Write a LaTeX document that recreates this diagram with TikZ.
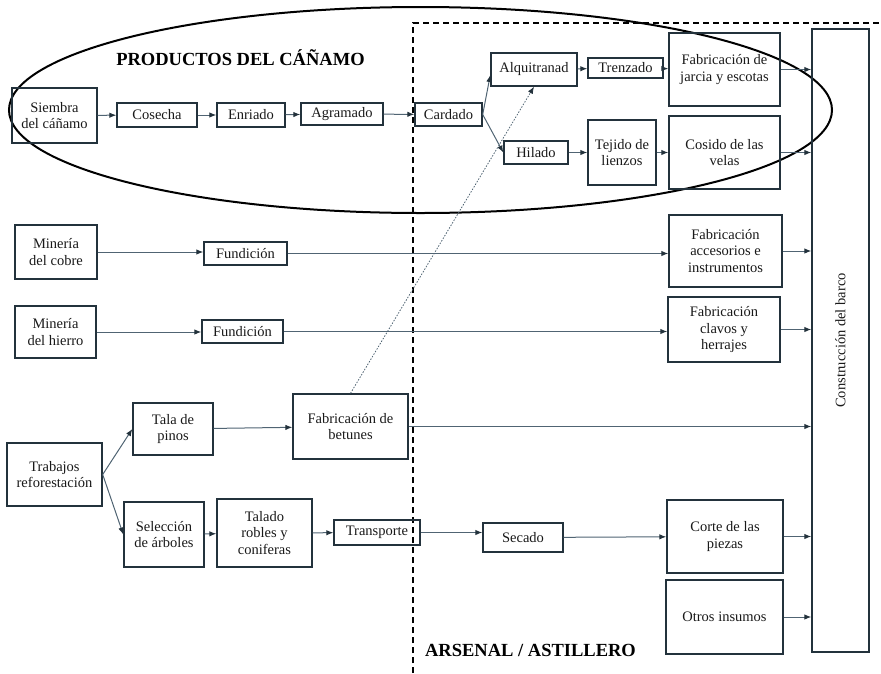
\documentclass[tikz,border=0pt]{standalone}
\usepackage{fontspec}
\setmainfont{Liberation Serif}
\usepackage{tikz}
\usetikzlibrary{arrows.meta}

\definecolor{boxcol}{RGB}{35,50,60}
\definecolor{flowcol}{RGB}{80,100,115}

\begin{document}
\begin{tikzpicture}[x=1pt,y=-1pt,>={Latex[length=7pt,width=5.5pt,color=boxcol]},
  caja/.style={draw=boxcol,line width=1.4pt,rectangle,align=center,inner sep=0pt,text=black!90,font=\fontsize{14.5}{16.7}\selectfont},
  flecha/.style={->,draw=flowcol,line width=1pt},
  titulo/.style={font=\fontsize{18.5}{22}\selectfont\bfseries,text=black}]
\useasboundingbox (0,0) rectangle (881,673);
% areas
\draw[line width=2pt] (420.5,110) ellipse [x radius=411.5pt, y radius=103pt];
\draw[line width=2pt, dash pattern=on 6pt off 4pt] (413,673) -- (413,23) -- (881,23);
\node[titulo] (prod) at (240.5,58) {PRODUCTOS DEL CÁÑAMO};
\node[titulo] (arsenal) at (530.5,650) {ARSENAL / ASTILLERO};
% canamo
\node[caja,minimum width=85pt,minimum height=55pt] (siembra) at (54.5,115.5) {Siembra\\del cáñamo};
\node[caja,minimum width=80pt,minimum height=24pt] (cosecha) at (157,115) {Cosecha};
\node[caja,minimum width=68pt,minimum height=24pt] (enriado) at (251,115) {Enriado};
\node[caja,minimum width=82pt,minimum height=22pt] (agramado) at (342,114) {Agramado};
\node[caja,minimum width=67pt,minimum height=23pt] (cardado) at (448.5,114.5) {Cardado};
\node[caja,minimum width=86pt,minimum height=33pt] (alquitran) at (534,69.5) {Alquitranad};
\node[caja,minimum width=75pt,minimum height=20pt] (trenzado) at (625.5,68) {Trenzado};
\node[caja,minimum width=111pt,minimum height=73pt] (jarcia) at (724.5,69.5) {Fabricación de\\jarcia y escotas};
\node[caja,minimum width=64pt,minimum height=23pt] (hilado) at (536,152.5) {Hilado};
\node[caja,minimum width=68pt,minimum height=65pt] (tejido) at (622,152.5) {Tejido de\\lienzos};
\node[caja,minimum width=111pt,minimum height=73pt] (cosido) at (724.5,152.5) {Cosido de las\\velas};
\node[caja,minimum width=57pt,minimum height=623pt] (barco) at (840.5,340.5) {\rotatebox{90}{Construcción del barco}};
% metales
\node[caja,minimum width=82pt,minimum height=54pt] (cobre) at (56,252) {Minería\\del cobre};
\node[caja,minimum width=83pt,minimum height=23pt] (fund1) at (245.5,253.5) {Fundición};
\node[caja,minimum width=113pt,minimum height=72pt] (acces) at (725.5,251) {Fabricación\\accesorios e\\instrumentos};
\node[caja,minimum width=81pt,minimum height=52pt] (hierro) at (55.5,332) {Minería\\del hierro};
\node[caja,minimum width=81pt,minimum height=23pt] (fund2) at (242.5,331.5) {Fundición};
\node[caja,minimum width=112pt,minimum height=65pt] (clavos) at (724,329.5) {Fabricación\\clavos y\\herrajes};
% madera
\node[caja,minimum width=95pt,minimum height=63pt] (trabajos) at (54.5,474.5) {Trabajos\\reforestación};
\node[caja,minimum width=80pt,minimum height=52pt] (tala) at (173,429) {Tala de\\pinos};
\node[caja,minimum width=115pt,minimum height=65pt] (betunes) at (350.5,426.5) {Fabricación de\\betunes};
\node[caja,minimum width=80pt,minimum height=65pt] (selec) at (164,534.5) {Selección\\de árboles};
\node[caja,minimum width=95pt,minimum height=68pt] (talado) at (264.5,533) {Talado\\robles y\\coniferas};
\node[caja,minimum width=86pt,minimum height=25pt] (transp) at (377,532.5) {Transporte};
\node[caja,minimum width=80pt,minimum height=29pt] (secado) at (523,537.5) {Secado};
\node[caja,minimum width=116pt,minimum height=73pt] (corte) at (725,536.5) {Corte de las\\piezas};
\node[caja,minimum width=117pt,minimum height=74pt] (otros) at (724.5,617) {Otros insumos};
% flechas
\draw[flecha] (siembra) -- (cosecha);
\draw[flecha] (cosecha) -- (enriado);
\draw[flecha] (enriado) -- (agramado);
\draw[flecha] (agramado) -- (cardado);
\draw[flecha] (cardado.east) -- ([yshift=-5.5pt]alquitran.west);
\draw[flecha] (cardado.east) -- (hilado.west);
\draw[flecha] (alquitran) -- (trenzado);
\draw[flecha] (trenzado) -- (jarcia);
\draw[flecha] (hilado) -- (tejido);
\draw[flecha] (tejido) -- (cosido);
\draw[flecha] (jarcia.east) -- (jarcia.east -| barco.west);
\draw[flecha] (cosido.east) -- (cosido.east -| barco.west);
\draw[flecha] (cobre.east) -- (cobre.east -| fund1.west);
\draw[flecha] (fund1.east) -- (fund1.east -| acces.west);
\draw[flecha] (acces.east) -- (acces.east -| barco.west);
\draw[flecha] (hierro.east) -- (hierro.east -| fund2.west);
\draw[flecha] (fund2.east) -- (fund2.east -| clavos.west);
\draw[flecha] (clavos.east) -- (clavos.east -| barco.west);
\draw[flecha] (trabajos.east) -- (tala.west);
\draw[flecha] (trabajos.east) -- (selec.west);
\draw[flecha] (tala) -- (betunes);
\draw[flecha] (betunes.east) -- (betunes.east -| barco.west);
\draw[flecha, line width=0.8pt, dash pattern=on 1.5pt off 1.5pt] (betunes.north) -- (alquitran.south);
\draw[flecha] (selec) -- (talado);
\draw[flecha] (talado) -- (transp);
\draw[flecha] (transp.east) -- (transp.east -| secado.west);
\draw[flecha] (secado) -- (corte);
\draw[flecha] (corte.east) -- (corte.east -| barco.west);
\draw[flecha] (otros.east) -- (otros.east -| barco.west);
\end{tikzpicture}
\end{document}
